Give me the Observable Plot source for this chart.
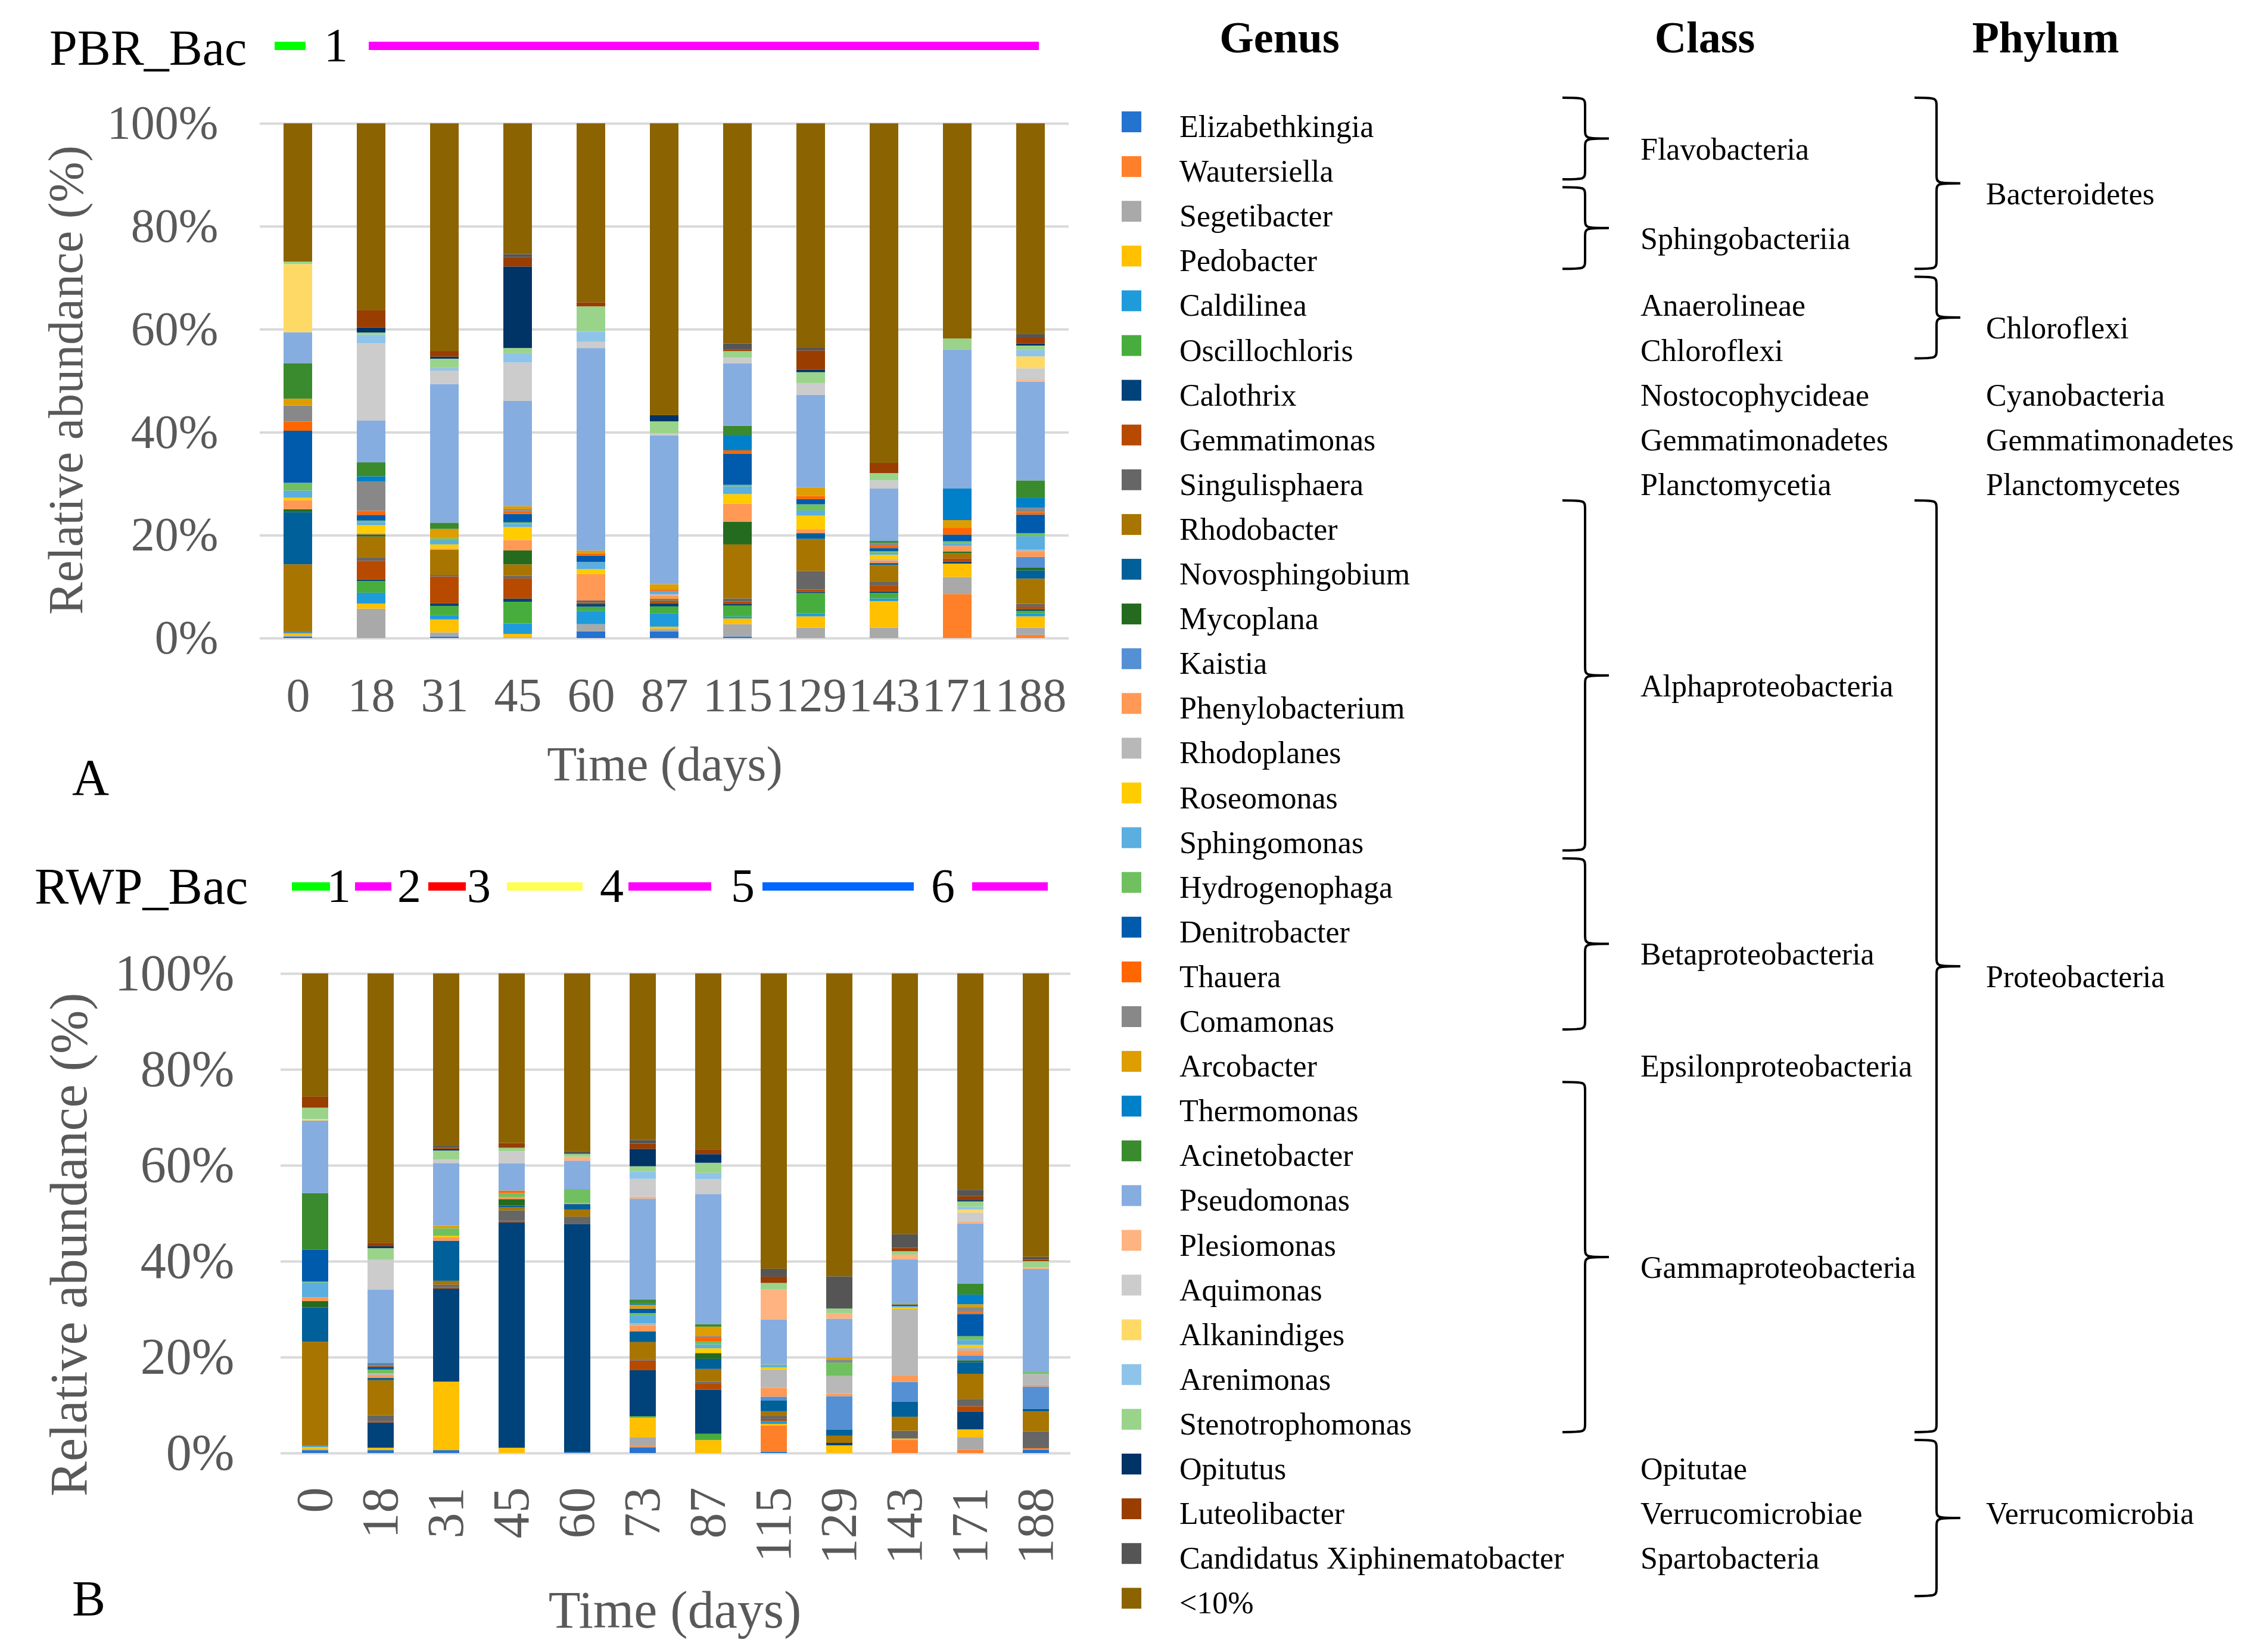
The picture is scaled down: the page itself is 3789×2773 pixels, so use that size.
<!DOCTYPE html>
<html><head><meta charset="utf-8">
<script src="https://cdn.jsdelivr.net/npm/d3@7"></script>
<script src="https://cdn.jsdelivr.net/npm/@observablehq/plot@0.6"></script>
<style>
html,body{margin:0;padding:0;background:#fff;}
#page{position:relative;width:3789px;height:2773px;overflow:hidden;background:#fff;}
#page > *{position:absolute;}
</style></head><body><div id="page"></div>
<script>
// ---------------- DATA ----------------
const genera = ["Elizabethkingia","Wautersiella","Segetibacter","Pedobacter","Caldilinea","Oscillochloris","Calothrix","Gemmatimonas","Singulisphaera","Rhodobacter","Novosphingobium","Mycoplana","Kaistia","Phenylobacterium","Rhodoplanes","Roseomonas","Sphingomonas","Hydrogenophaga","Denitrobacter","Thauera","Comamonas","Arcobacter","Thermomonas","Acinetobacter","Pseudomonas","Plesiomonas","Aquimonas","Alkanindiges","Arenimonas","Stenotrophomonas","Opitutus","Luteolibacter","Candidatus Xiphinematobacter","<10%"];
const genusColors = ["#2473CF","#FF8029","#A9A9A9","#FFC000","#1F9BDB","#47AE3D","#00427A","#B84A00","#666666","#A87500","#00609A","#246B20","#5590D5","#FF9955","#B8B8B8","#FFCC00","#5AAEE0","#70C060","#005BAC","#FF6600","#888888","#DE9D00","#0080C8","#3A8A2E","#86ADDF","#FFB380","#CCCCCC","#FFD966","#8FC4EA","#9AD48B","#003366","#993D00","#555555","#8B6300"];
const classes = [["Flavobacteria",0,1],["Sphingobacteriia",2,3],["Anaerolineae",4,4],["Chloroflexi",5,5],["Nostocophycideae",6,6],["Gemmatimonadetes",7,7],["Planctomycetia",8,8],["Alphaproteobacteria",9,16],["Betaproteobacteria",17,20],["Epsilonproteobacteria",21,21],["Gammaproteobacteria",22,29],["Opitutae",30,30],["Verrucomicrobiae",31,31],["Spartobacteria",32,32]];
const phyla = [["Bacteroidetes",0,3],["Chloroflexi",4,5],["Cyanobacteria",6,6],["Gemmatimonadetes",7,7],["Planctomycetes",8,8],["Proteobacteria",9,29],["Verrucomicrobia",30,32]];

const pbrDays = ["0","18","31","45","60","87","115","129","143","171","188"];
// rows follow `genera`, columns follow `pbrDays` (relative abundance, %)
const pbrAbundance = [
 [.3,0,.3,0,1.3,1.3,.3,0,0,0,0],
 [0,0,0,0,0,0,0,0,0,8.5,.6],
 [.2,5.7,.8,.2,1.4,.5,2.4,2.0,2.0,3.3,1.4],
 [.4,1.0,2.5,.6,0,.4,1.1,2.2,5.2,2.6,2.2],
 [.2,2.1,.8,2.0,2.6,2.6,.4,.6,.5,0,.6],
 [0,2.3,1.8,4.2,.8,1.3,2.1,3.9,1.1,0,.5],
 [0,.3,.5,.6,.5,.6,.3,.2,.3,.4,.3],
 [0,3.6,5.2,3.9,.3,.3,.5,.5,1.2,.6,.5],
 [.2,.6,.3,.5,.4,.3,.6,3.6,.6,0,.5],
 [13,4.1,4.9,2.2,0,.3,10.5,6.2,3.3,1.0,4.9],
 [10.1,0,0,0,0,0,0,1.1,.4,0,1.6],
 [.6,.4,0,2.7,0,0,4.4,0,0,.3,.5],
 [0,0,0,0,0,0,0,0,0,0,2.1],
 [1.7,.3,.2,2.0,5.1,.6,3.5,.8,.5,1.1,1.0],
 [0,0,0,0,0,.3,0,0,.3,0,.4],
 [.5,1.5,.8,2.5,1.0,0,1.9,2.6,.8,0,0],
 [1.4,.6,.8,.6,1.4,.6,1.5,1.0,.4,.6,2.6],
 [1.5,.3,.4,.3,0,0,.3,1.2,.3,.3,.6],
 [10.1,1.1,0,1.6,1.2,0,6.0,1.0,.6,1.3,3.6],
 [1.8,.8,0,.6,.5,.3,.7,.6,.6,1.3,.5],
 [3.1,5.7,0,.3,0,0,0,0,.4,0,.8],
 [1.3,0,1.8,.6,.5,1.0,0,1.6,0,1.5,0],
 [0,1.0,0,0,0,0,3.0,0,0,6.1,1.9],
 [6.9,2.7,1.2,0,0,0,1.8,0,.4,0,3.4],
 [6.0,8.1,26.8,20.3,39.4,28.7,12.1,18.0,10.2,26.9,19.1],
 [0,0,0,0,0,0,0,0,0,0,.3],
 [0,15.0,2.6,7.4,1.2,.4,1.1,2.3,1.6,0,2.3],
 [13.2,0,0,0,0,0,0,0,0,0,2.3],
 [0,1.7,.5,1.8,2.0,0,0,0,0,0,1.2],
 [.5,.4,1.8,1.0,4.9,2.3,1.3,2.1,1.4,2.1,.9],
 [0,1.0,.4,15.7,0,1.2,0,.5,0,0,.4],
 [0,3.3,1.1,1.8,.8,0,.3,3.7,2.0,0,1.1],
 [0,0,0,.6,0,0,1.2,.5,0,0,.7],
 [26.8,36.3,44,25.2,34.8,56.3,42.8,43.5,66.1,41.6,40.8]
];

const rwpDays = ["0","18","31","45","60","73","87","115","129","143","171","188"];
const rwpAbundance = [
 [.6,.6,.6,0,.2,1.1,0,.3,0,0,0,.7],
 [0,0,0,0,0,.3,0,5.4,0,2.7,.7,.3],
 [.2,0,0,0,0,1.8,0,0,0,0,2.6,0],
 [.5,.5,14.2,1.1,0,4.1,2.7,.3,1.6,.3,1.6,0],
 [.3,0,0,0,0,0,0,.6,0,0,0,0],
 [0,0,0,0,0,.3,1.3,0,0,0,0,0],
 [0,5.2,19.3,46.8,47.3,9.5,9.2,0,.5,0,3.7,0],
 [0,.3,.3,.3,0,2.0,1.2,.4,0,0,1.1,0],
 [0,1.2,.5,2.2,1.5,.3,.4,.6,0,1.6,1.5,3.5],
 [21.7,7.2,.8,.7,1.5,3.5,2.7,1.0,1.5,2.9,5.2,4.1],
 [7.2,.5,8.3,.3,1.1,2.2,2.1,2.2,1.3,3.1,2.4,.6],
 [1.3,0,0,1.3,0,0,1.2,0,0,0,.4,0],
 [0,0,0,0,0,0,0,.8,6.9,4.1,1.0,4.6],
 [.8,.6,.7,.5,.2,1.2,0,1.8,.5,1.4,1.0,.3],
 [0,.3,0,0,0,.5,0,3.8,3.7,13.7,.6,2.3],
 [0,0,.3,0,0,0,1.0,.4,0,.3,.6,0],
 [3.1,0,0,0,0,1.6,.8,.3,0,.3,1.0,0],
 [.2,.8,1.6,.8,2.9,.5,.6,.3,2.8,0,.8,.4],
 [6.7,.6,0,0,0,.9,0,0,0,.3,4.6,0],
 [0,.4,0,.5,0,0,1.0,0,0,0,.4,0],
 [0,0,0,0,0,0,.3,0,.6,0,1.0,0],
 [0,0,.5,0,0,.8,1.8,0,.5,.3,.6,0],
 [0,.3,0,0,0,.3,0,0,0,0,2.0,0],
 [11.8,0,0,0,0,.8,.5,0,0,0,2.3,0],
 [15.2,15.2,13.0,5.7,5.9,20.8,27.1,9.3,8.0,9.0,12.4,21.4],
 [0,0,0,0,.8,.4,0,6.2,1.1,1.0,.5,.3],
 [0,6.1,.7,2.5,0,3.7,3.1,0,0,0,1.8,0],
 [.3,0,0,0,0,0,0,0,0,0,.6,0],
 [0,0,0,0,0,1.5,1.3,0,0,0,.6,0],
 [2.4,2.4,1.9,.7,.6,1.1,2.1,1.3,1.0,.7,1.1,1.3],
 [0,.4,.3,0,0,3.6,1.8,0,0,0,.3,0],
 [2.3,.7,.3,1.0,0,1.1,1.0,1.3,0,.7,.8,.3],
 [0,0,.4,0,.5,.7,0,1.6,6.7,2.8,1.3,.6],
 [25.8,55.5,35.7,35.2,36.9,34.4,36.6,60.8,62.9,53.9,44.8,58.8]
];
const yTicks = [0, 0.2, 0.4, 0.6, 0.8, 1];
const pbrPhaseLabels = ["1"];
const rwpPhaseLabels = ["1","2","3","4","5","6"];

// ---------------- LAYOUT ----------------
const FONT = "Liberation Serif, Times New Roman, serif";
const GRAY = "#595959";
const LEG = 52;
const page = document.getElementById("page");

function tidy(days, matrix) {
  const rows = [];
  genera.forEach((g, gi) => days.forEach((d, di) => {
    const v = matrix[gi][di];
    if (v > 0) rows.push({genus: g, day: d, value: v});
  }));
  return rows;
}

function panel(o) {
  return Plot.plot({
    width: o.width, height: o.height,
    marginLeft: o.ml, marginRight: o.mr, marginTop: o.mt, marginBottom: o.mb,
    style: {fontFamily: FONT, fontSize: o.fs + "px", color: GRAY, background: "transparent", overflow: "visible"},
    x: {domain: o.days, paddingInner: o.pi, paddingOuter: o.po, label: null},
    y: {domain: [0, 1], label: null},
    color: {domain: genera, range: genusColors},
    marks: [
      Plot.gridY(yTicks, {stroke: "#D9D9D9", strokeOpacity: 1, strokeWidth: 4}),
      Plot.barY(tidy(o.days, o.matrix), Plot.stackY({x: "day", y: "value", fill: "genus", offset: "normalize"})),
      Plot.axisY(yTicks, {tickSize: 0, tickPadding: o.tpy, tickFormat: d3.format(".0%"), label: null}),
      Plot.axisX({tickSize: 0, tickPadding: o.tpx, tickRotate: o.rot, label: null})
    ]
  });
}

const chartA = panel({days: pbrDays, matrix: pbrAbundance, width: 1800, height: 1360,
  ml: 436, mr: 6, mt: 207, mb: 289, fs: 80, pi: 0.61, po: 0.305, tpy: 70, tpx: 66, rot: 0});
chartA.style.left = "0px"; chartA.style.top = "0px";
page.appendChild(chartA);

const chartB = panel({days: rwpDays, matrix: rwpAbundance, width: 1800, height: 1373,
  ml: 471, mr: 3, mt: 234, mb: 334, fs: 86, pi: 0.603, po: 0.29, tpy: 78, tpx: 57, rot: -90});
chartB.style.left = "0px"; chartB.style.top = "1400px";
page.appendChild(chartB);

// overlay: titles, phase bars, axis titles, legend
const svg = d3.create("svg").attr("width", 3789).attr("height", 2773)
  .style("left", "0px").style("top", "0px").style("font-family", FONT);

function txt(x, y, s, size, opts = {}) {
  const t = svg.append("text").attr("x", x).attr("y", y).attr("font-size", size)
    .attr("fill", opts.fill || "#000").attr("text-anchor", opts.anchor || "start").text(s);
  if (opts.weight) t.attr("font-weight", opts.weight);
  if (opts.rotate) t.attr("transform", `rotate(${opts.rotate},${x},${y})`).attr("dominant-baseline", "central");
  return t;
}
function seg(x1, x2, y, color) {
  svg.append("line").attr("x1", x1).attr("x2", x2).attr("y1", y).attr("y2", y)
    .attr("stroke", color).attr("stroke-width", 14);
}

// Panel A header
txt(83, 109, "PBR_Bac", 84);
seg(461, 513, 77, "#00FF00");
txt(564, 103, pbrPhaseLabels[0], 80, {anchor: "middle"});
seg(619, 1744, 77, "#FF00FF");
// Panel B header
txt(58, 1517, "RWP_Bac", 86);
const rwpSegs = [[490, 554, "#00FF00"], [596, 657, "#FF00FF"], [719, 782, "#FF0000"], [851, 978, "#FFFF55"], [1055, 1194, "#FF00FF"], [1280, 1534, "#0066FF"], [1632, 1759, "#FF00FF"]];
const rwpLabelX = [569, 687, 804, 1027, 1247, 1583];
rwpSegs.forEach(s => seg(s[0], s[1], 1488, s[2]));
rwpPhaseLabels.forEach((l, i) => txt(rwpLabelX[i], 1514, l, 80, {anchor: "middle"}));

// axis titles and panel letters
txt(1116, 1310, "Time (days)", 82, {anchor: "middle", fill: GRAY});
txt(110, 638, "Relative abundance (%)", 82, {anchor: "middle", fill: GRAY, rotate: -90});
txt(1133, 2732, "Time (days)", 88, {anchor: "middle", fill: GRAY});
txt(115, 2089, "Relative abundance (%)", 88, {anchor: "middle", fill: GRAY, rotate: -90});
txt(121, 1334, "A", 86);
txt(121, 2712, "B", 84);

// legend
const rowBase = i => 230 + 75.1 * i;
txt(2148, 88, "Genus", 74, {anchor: "middle", weight: "bold"});
txt(2862, 88, "Class", 74, {anchor: "middle", weight: "bold"});
txt(3434, 88, "Phylum", 74, {anchor: "middle", weight: "bold"});
genera.forEach((g, i) => {
  svg.append("rect").attr("x", 1883).attr("y", rowBase(i) - 43).attr("width", 33).attr("height", 35).attr("fill", genusColors[i]);
  txt(1980, rowBase(i), g, LEG);
});
function brace(x0, xm, xt, top, bottom) {
  const mid = (top + bottom) / 2, r = 16;
  const d = `M${x0},${top} C${xm},${top} ${xm},${top} ${xm},${top + r} L${xm},${mid - r} C${xm},${mid} ${xm},${mid} ${xt},${mid} C${xm},${mid} ${xm},${mid} ${xm},${mid + r} L${xm},${bottom - r} C${xm},${bottom} ${xm},${bottom} ${x0},${bottom}`;
  svg.append("path").attr("d", d).attr("fill", "none").attr("stroke", "#000").attr("stroke-width", 4);
}
function group(list, textX, bx) {
  list.forEach(([name, a, b]) => {
    txt(textX, (rowBase(a) + rowBase(b)) / 2, name, LEG);
    if (b > a) {
      const top = rowBase(a) - 66;
      const bottom = name === "Verrucomicrobia" ? rowBase(b) + 46 : rowBase(b) - 4;
      brace(bx[0], bx[1], bx[2], top, bottom);
    }
  });
}
group(classes, 2754, [2623, 2661, 2701]);
group(phyla, 3334, [3214, 3251, 3291]);

page.appendChild(svg.node());
</script></body></html>
